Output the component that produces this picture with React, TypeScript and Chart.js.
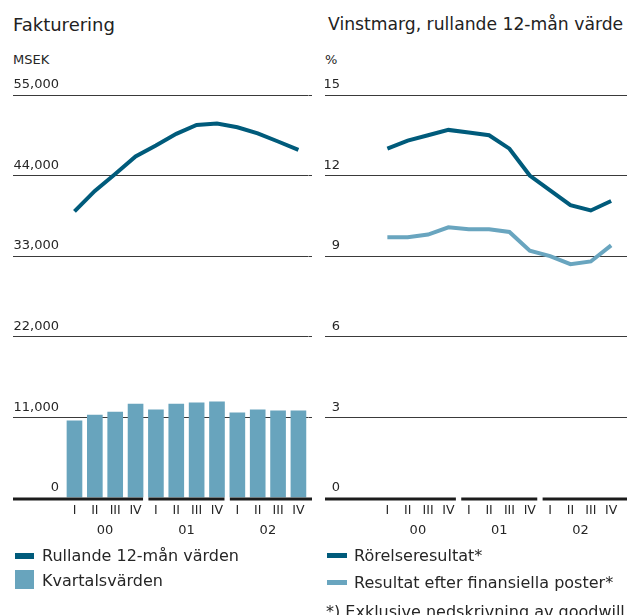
import React, { useEffect, useRef } from "react";
import { Chart, registerables } from "chart.js";

Chart.register(...registerables);

const FONT = "'DejaVu Sans', sans-serif";
const TEXT = "#262626";
const DARK = "#005b7b";
const LIGHT = "#69a5bf";
const BAR = "#68a4bd";

const quarters = ["I", "II", "III", "IV", "I", "II", "III", "IV", "I", "II", "III", "IV"];
const years = ["00", "01", "02"];

const invoicingQuarterly = [10500, 11300, 11700, 12800, 12000, 12800, 12950, 13100, 11600, 12000, 11850, 11850];
const invoicingRolling = [39100, 41900, 44200, 46600, 48100, 49700, 50900, 51100, 50600, 49750, 48650, 47500];
const invoicingTicks = [0, 11000, 22000, 33000, 44000, 55000];

const operatingMargin = [13.0, 13.3, 13.5, 13.7, 13.6, 13.5, 13.0, 12.0, 11.45, 10.9, 10.7, 11.05];
const marginAfterFinancial = [9.7, 9.7, 9.8, 10.07, 10.0, 10.0, 9.9, 9.2, 9.0, 8.7, 8.8, 9.4];
const marginTicks = [0, 3, 6, 9, 12, 15];

const yearAxisPlugin = {
  id: "yearAxis",
  afterDraw(chart: any, _args: any, opts: any) {
    const { ctx } = chart;
    const x = chart.scales.x;
    const y = chart.scales.y;
    const y2 = chart.scales.y2;
    const y0 = y.getPixelForValue(0);
    const half = opts.halfBar ?? 7.5;
    const gridLeft = y.left;
    const gridRight = y2.right;
    ctx.save();
    years.forEach((yr, k) => {
      const first = 4 * k;
      const last = 4 * k + 3;
      const start = k === 0 ? gridLeft : x.getPixelForValue(first) - half;
      const end = k === years.length - 1 ? gridRight : x.getPixelForValue(last) + half;
      ctx.fillStyle = "#1c1c1c";
      ctx.fillRect(start, Math.round(y0) - 0.5, end - start, 3);
      const cx = (x.getPixelForValue(first + 1) + x.getPixelForValue(first + 2)) / 2;
      ctx.fillStyle = TEXT;
      ctx.font = `13px ${FONT}`;
      ctx.textAlign = "center";
      ctx.textBaseline = "middle";
      ctx.fillText(yr, cx, y0 + 33);
    });
    ctx.restore();
  },
};

function buildOptions(
  ticks: number[],
  labelPad: number,
  yWidth: number,
  y2Width: number,
  padLeft: number,
  padRight: number
): any {
  const setTicks = (axis: any) => {
    axis.ticks = ticks.map((v) => ({ value: v }));
  };
  const gridColor = (c: any) => (c.tick && c.tick.value === 0 ? "rgba(0,0,0,0)" : "#3a3a3a");
  return {
    responsive: false,
    animation: false,
    events: [],
    layout: { padding: { top: 95, bottom: 615 - 497.7 - 30, left: padLeft, right: padRight } },
    plugins: {
      legend: { display: false },
      tooltip: { enabled: false },
      yearAxis: { halfBar: 7.5 },
    },
    scales: {
      x: {
        type: "category",
        offset: true,
        grid: { display: false, drawTicks: false },
        border: { display: false },
        ticks: {
          color: TEXT,
          font: { family: FONT, size: 12.5 },
          padding: 6,
          maxRotation: 0,
          autoSkip: false,
        },
        afterFit: (s: any) => {
          s.height = 30;
        },
      },
      y: {
        position: "left",
        min: ticks[0],
        max: ticks[ticks.length - 1],
        afterBuildTicks: setTicks,
        grid: { color: gridColor, lineWidth: 1, tickLength: yWidth, drawTicks: true },
        border: { display: false },
        ticks: {
          padding: labelPad,
          labelOffset: -10,
          color: TEXT,
          font: { family: FONT, size: 13 },
          callback: (v: any) => Number(v).toLocaleString("en-US"),
        },
        afterFit: (s: any) => {
          s.width = yWidth;
        },
      },
      y2: {
        position: "right",
        min: ticks[0],
        max: ticks[ticks.length - 1],
        afterBuildTicks: setTicks,
        grid: { color: gridColor, lineWidth: 1, tickLength: y2Width, drawOnChartArea: false, drawTicks: true },
        border: { display: false },
        ticks: { display: false },
        afterFit: (s: any) => {
          s.width = y2Width;
        },
      },
    },
  };
}

const textBase: React.CSSProperties = {
  position: "absolute",
  fontFamily: FONT,
  color: TEXT,
  lineHeight: 1,
  whiteSpace: "nowrap",
  margin: 0,
};

export default function App() {
  const leftRef = useRef<HTMLCanvasElement | null>(null);
  const rightRef = useRef<HTMLCanvasElement | null>(null);

  useEffect(() => {
    const charts: Chart[] = [];
    if (leftRef.current) {
      charts.push(
        new Chart(leftRef.current, {
          type: "bar",
          data: {
            labels: quarters,
            datasets: [
              {
                type: "line",
                label: "Rullande 12-mån värden",
                data: invoicingRolling,
                borderColor: DARK,
                borderWidth: 4,
                pointRadius: 0,
                fill: false,
                tension: 0,
                order: 0,
              } as any,
              {
                type: "bar",
                label: "Kvartalsvärden",
                data: invoicingQuarterly,
                backgroundColor: BAR,
                borderWidth: 0,
                barThickness: 15,
                order: 1,
              } as any,
            ],
          },
          options: buildOptions(invoicingTicks, -46, 51.3, 3.4, 13, 1),
          plugins: [yearAxisPlugin],
        })
      );
    }
    if (rightRef.current) {
      charts.push(
        new Chart(rightRef.current, {
          type: "line",
          data: {
            labels: quarters,
            datasets: [
              {
                label: "Rörelseresultat*",
                data: operatingMargin,
                borderColor: DARK,
                borderWidth: 4,
                pointRadius: 0,
                fill: false,
                tension: 0,
              },
              {
                label: "Resultat efter finansiella poster*",
                data: marginAfterFinancial,
                borderColor: LIGHT,
                borderWidth: 4,
                pointRadius: 0,
                fill: false,
                tension: 0,
              },
            ],
          },
          options: buildOptions(marginTicks, -15, 52.2, 5.7, 12, 0),
          plugins: [yearAxisPlugin],
        })
      );
    }
    return () => {
      charts.forEach((c) => c.destroy());
    };
  }, []);

  return (
    <div
      style={{
        position: "absolute",
        left: 0,
        top: 0,
        width: 627,
        height: 615,
        overflow: "hidden",
        background: "#ffffff",
      }}
    >
      <div style={{ ...textBase, left: 13, top: 15.8, fontSize: 18, color: "#222" }}>Fakturering</div>
      <div style={{ ...textBase, left: 328, top: 16.4, fontSize: 17.2, color: "#222" }}>
        Vinstmarg, rullande 12-mån värde
      </div>
      <div style={{ ...textBase, left: 13, top: 53.3, fontSize: 13 }}>MSEK</div>
      <div style={{ ...textBase, left: 325, top: 53.3, fontSize: 13 }}>%</div>

      <canvas
        ref={leftRef}
        width={313}
        height={615}
        style={{ position: "absolute", left: 0, top: 0, width: 313, height: 615 }}
      />
      <canvas
        ref={rightRef}
        width={314}
        height={615}
        style={{ position: "absolute", left: 313, top: 0, width: 314, height: 615 }}
      />

      <div style={{ position: "absolute", left: 15, top: 553, width: 19, height: 6, background: DARK }} />
      <div style={{ ...textBase, left: 42, top: 548.1, fontSize: 16 }}>Rullande 12-mån värden</div>
      <div style={{ position: "absolute", left: 15, top: 570, width: 19, height: 19, background: BAR }} />
      <div style={{ ...textBase, left: 42, top: 573.2, fontSize: 16 }}>Kvartalsvärden</div>

      <div style={{ position: "absolute", left: 327, top: 553, width: 20, height: 5, background: DARK }} />
      <div style={{ ...textBase, left: 354, top: 548.1, fontSize: 16 }}>Rörelseresultat*</div>
      <div style={{ position: "absolute", left: 327, top: 580, width: 20, height: 5, background: LIGHT }} />
      <div style={{ ...textBase, left: 354, top: 574.8, fontSize: 16 }}>Resultat efter finansiella poster*</div>
      <div style={{ ...textBase, left: 326, top: 604, fontSize: 16 }}>*) Exklusive nedskrivning av goodwill</div>
    </div>
  );
}
